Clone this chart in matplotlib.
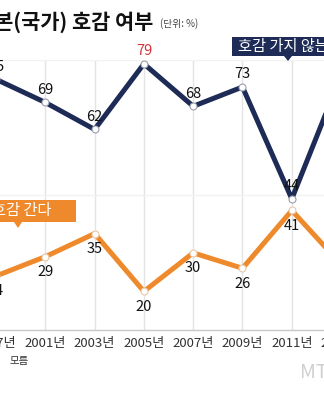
import matplotlib.pyplot as plt
from matplotlib.patches import Rectangle, Polygon

plt.rcParams['font.family'] = ['Noto Sans CJK KR', 'DejaVu Sans']

# data
years = ['1997년', '2001년', '2003년', '2005년', '2007년', '2009년', '2011년', '2013년']
dislike = [75, 69, 62, 79, 68, 73, 44, 76]
like = [24, 29, 35, 20, 30, 26, 41, 27]

navy = '#1d2b56'
orange = '#ef8a2c'

W, H = 324, 400


def px(x, y):
    # pixel position -> figure fraction
    return x / W, 1 - y / H


fig = plt.figure(figsize=(W / 100, H / 100), dpi=100)
fig.patch.set_facecolor('white')

# axes run past the figure edges, the picture is a crop
ax = fig.add_axes([-30 / W, 70 / H, 396 / W, 270 / H])
x = list(range(len(years)))
ax.set_xlim(-0.527, 7.505)
ax.set_ylim(10, 80)

for s in ['top', 'right', 'left']:
    ax.spines[s].set_visible(False)
ax.spines['bottom'].set_color('#c8c8c8')
ax.spines['bottom'].set_linewidth(1)

ax.set_xticks(x)
ax.set_xticklabels(years, fontsize=9.5, color='#333333')
ax.set_yticks([45, 80])
ax.set_yticklabels([])
ax.tick_params(axis='both', length=0, pad=5)
ax.grid(axis='x', color='#e4e4e4', linewidth=1)
ax.grid(axis='y', color='#f2f2f2', linewidth=1)
ax.set_axisbelow(True)

ax.plot(x, dislike, color=navy, lw=3.6, marker='o', ms=5, mfc='white',
        mec='#9aa0ad', mew=0.8, clip_on=False, zorder=3)
ax.plot(x, like, color=orange, lw=3.6, marker='o', ms=5, mfc='white',
        mec='#e8c9a8', mew=0.8, clip_on=False, zorder=3)

for xi, v in zip(x, dislike):
    c = '#d2353c' if v == max(dislike[:7]) else '#111111'
    ax.annotate(str(v), (xi, v), xytext=(0, 9), textcoords='offset points',
                ha='center', va='center', fontsize=10.5, fontweight='medium',
                color=c, zorder=4)
for xi, v in zip(x, like):
    ax.annotate(str(v), (xi, v), xytext=(0, -11), textcoords='offset points',
                ha='center', va='center', fontsize=10.5, fontweight='medium',
                color='#111111', zorder=4)

# title
fig.text(*px(153, 22), '일본(국가) 호감 여부', ha='right', va='center',
         fontsize=15, fontweight='bold', color='#111111')
fig.text(*px(160, 24), '(단위: %)', ha='left', va='center', fontsize=7,
         color='#444444')

# series tags
x0, y0 = px(232, 56)
x1, y1 = px(340, 37)
fig.patches.append(Rectangle((x0, y0), x1 - x0, y1 - y0, transform=fig.transFigure,
                             facecolor=navy, edgecolor='none'))
fig.patches.append(Polygon([px(284, 56), px(292, 56), px(288, 61)], closed=True,
                           transform=fig.transFigure, facecolor=navy, edgecolor='none'))
fig.text(*px(238, 46.5), '호감 가지 않는다', ha='left', va='center', fontsize=11,
         color='white')

x0, y0 = px(-5, 222)
x1, y1 = px(76, 200)
fig.patches.append(Rectangle((x0, y0), x1 - x0, y1 - y0, transform=fig.transFigure,
                             facecolor=orange, edgecolor='none'))
fig.patches.append(Polygon([px(14, 222), px(22, 222), px(18, 228)], closed=True,
                           transform=fig.transFigure, facecolor=orange, edgecolor='none'))
fig.text(*px(-8, 211), '호감 간다', ha='left', va='center', fontsize=11,
         color='white')

fig.text(*px(9, 361), '모름', ha='left', va='center', fontsize=7.5, color='#333333')
fig.text(*px(300, 373), 'MTN', ha='left', va='center', fontsize=14,
         style='italic', color='#cfcfcf')

fig.savefig('out.png', dpi=100)
